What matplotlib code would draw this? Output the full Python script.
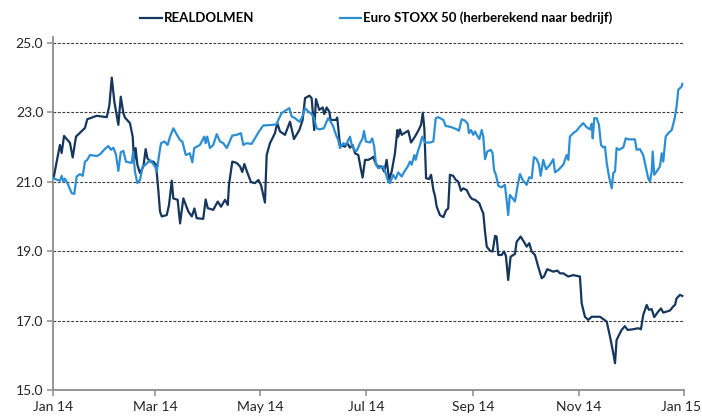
import pandas as pd
import numpy as np
import matplotlib
matplotlib.use('Agg')
import matplotlib.pyplot as plt
import matplotlib.dates as mdates
import matplotlib.transforms as mtransforms

DARK = '#16365C'
LIGHT = '#2D8ED4'
AXIS = '#8C8C8C'
TEXT = '#262626'

START = pd.Timestamp('2014-01-01')

# days since 1 Jan 2014
rd_days = [0.5, 4.0, 5.0, 6.4, 9.8, 11.4, 13.3, 16.6, 18.5, 19.8, 25.3, 31.1, 32.6, 34.0, 35.5,
           37.8, 39.2, 40.7, 41.6, 44.5, 46.1, 46.9, 47.8, 48.8, 50.3, 52.3, 53.6, 54.6, 56.1,
           58.0, 59.6, 60.9, 61.9, 62.9, 65.8, 67.1, 68.7, 69.6, 72.1, 73.5, 75.4, 78.3, 80.3,
           81.8, 83.1, 86.9, 88.3, 89.5, 92.7, 95.3, 97.2, 99.5, 101.1, 101.8, 103.7, 106.3,
           108.2, 109.5, 110.7, 112.0, 114.5, 116.8, 118.8, 120.3, 122.6, 123.6, 125.5, 128.4,
           129.7, 131.3, 134.2, 137.1, 139.4, 142.5, 144.4, 145.8, 148.3, 149.6, 151.1, 152.1,
           154.0, 156.0, 156.9, 158.3, 159.8, 160.6, 163.7, 164.4, 166.0, 168.9, 170.2, 171.8,
           173.3, 174.7, 176.6, 178.0, 179.1, 180.5, 182.4, 184.3, 185.3, 186.2, 187.8, 190.1,
           191.6, 193.0, 194.4, 195.9, 197.8, 199.2, 199.7, 200.7, 201.7, 203.2, 205.5, 207.1,
           209.4, 211.7, 212.9, 213.9, 214.8, 215.8, 217.5, 218.7, 220.0, 221.0, 221.9, 223.8,
           225.8, 227.3, 228.6, 229.6, 231.5, 232.9, 234.4, 236.0, 237.3, 239.3, 241.2, 242.5,
           244.1, 246.6, 248.0, 248.9, 249.9, 250.9, 252.8, 254.3, 255.7, 256.6, 257.6, 259.5,
           260.9, 262.0, 263.3, 264.7, 267.2, 268.2, 270.5, 272.4, 274.0, 275.5, 276.9, 278.8,
           280.7, 282.7, 284.0, 285.9, 289.4, 291.7, 293.3, 295.2, 296.7, 298.1, 300.9, 302.9,
           304.8, 305.8, 307.7, 309.6, 311.6, 316.4, 320.3, 322.2, 324.1, 325.1, 326.0, 328.9,
           330.8, 332.4, 335.6, 338.5, 340.1, 341.4, 343.4, 344.7, 346.3, 347.8, 350.1, 351.7,
           353.0, 356.9, 358.8, 359.8, 360.7, 362.7, 364.0]
rd_vals = [21.15, 22.06, 21.83, 22.32, 22.12, 21.70, 22.30, 22.46, 22.55, 22.80, 22.90, 22.86,
           23.20, 24.00, 23.30, 22.64, 23.45, 22.98, 22.85, 22.69, 22.30, 21.59, 21.97, 21.49,
           21.25, 21.44, 21.94, 21.68, 21.58, 21.58, 21.49, 20.77, 20.14, 20.00, 20.04, 20.33,
           21.03, 20.52, 20.48, 19.80, 20.52, 20.14, 20.00, 20.23, 19.95, 19.93, 20.49, 20.24,
           20.19, 20.43, 20.28, 20.48, 20.33, 20.91, 21.58, 21.54, 21.44, 21.28, 21.51, 21.32,
           20.99, 20.96, 21.05, 20.91, 20.40, 21.77, 22.11, 22.40, 22.69, 22.45, 22.35, 22.73,
           22.23, 22.49, 22.78, 23.41, 23.48, 23.41, 22.49, 23.38, 23.07, 23.14, 22.95, 23.14,
           23.02, 22.78, 22.78, 22.85, 22.06, 22.01, 22.11, 21.98, 22.06, 21.82, 21.77, 21.39,
           21.12, 21.63, 21.63, 21.68, 21.72, 21.58, 21.44, 21.44, 21.29, 21.63, 21.06, 21.29,
           21.82, 22.49, 22.30, 22.51, 22.35, 22.40, 22.47, 22.13, 22.30, 22.51, 22.64, 22.99,
           22.54, 21.10, 21.08, 21.20, 20.77, 20.58, 20.29, 20.04, 19.98, 20.17, 20.23, 21.20,
           21.17, 21.06, 21.00, 20.74, 20.81, 20.76, 20.57, 20.50, 20.48, 20.38, 20.19, 20.09,
           19.56, 19.13, 19.01, 18.99, 19.44, 19.42, 18.89, 18.89, 18.99, 18.86, 18.17, 18.84,
           18.92, 19.27, 19.42, 19.27, 19.13, 19.23, 18.99, 18.89, 18.55, 18.22, 18.27, 18.48,
           18.41, 18.44, 18.36, 18.36, 18.31, 18.27, 18.31, 18.29, 18.27, 17.50, 17.11, 17.02,
           17.11, 17.11, 16.97, 16.54, 16.06, 15.77, 16.44, 16.73, 16.84, 16.73, 16.75, 16.78,
           16.75, 17.16, 17.45, 17.31, 17.33, 17.10, 17.26, 17.35, 17.23, 17.29, 17.41, 17.45,
           17.64, 17.74, 17.71]

sx_days = [0.5, 2.1, 4.0, 5.0, 6.0, 6.9, 8.8, 10.8, 12.3, 13.7, 15.6, 17.2, 18.5, 19.8, 21.4,
           25.3, 27.2, 30.1, 32.0, 33.5, 34.9, 36.4, 37.8, 39.2, 40.7, 42.2, 45.5, 46.4, 47.4,
           48.8, 50.3, 51.9, 53.8, 56.1, 59.0, 60.0, 61.5, 62.5, 64.4, 66.3, 67.7, 69.6, 71.5,
           73.5, 74.8, 76.8, 79.2, 80.6, 81.7, 85.0, 87.5, 88.3, 89.2, 90.8, 92.7, 94.7, 96.6,
           98.5, 100.5, 102.4, 103.7, 106.3, 108.7, 110.1, 112.0, 114.9, 116.8, 119.2, 121.6,
           127.4, 129.4, 130.3, 132.3, 135.2, 136.7, 138.1, 140.0, 142.5, 143.9, 145.8, 147.7,
           149.6, 151.0, 152.5, 154.0, 156.7, 157.9, 159.2, 160.6, 162.1, 163.7, 165.0, 166.0,
           167.9, 169.5, 170.8, 171.8, 172.8, 174.1, 175.7, 177.6, 179.1, 179.9, 181.0, 183.4,
           184.7, 185.8, 186.8, 188.2, 191.0, 192.4, 193.9, 194.9, 196.8, 198.2, 199.7, 201.7,
           203.2, 205.2, 206.5, 207.5, 209.0, 209.8, 211.0, 212.3, 213.6, 215.2, 218.1, 220.0,
           221.4, 222.9, 225.8, 227.1, 230.6, 233.5, 234.8, 236.4, 238.3, 239.9, 240.6, 241.8,
           243.1, 244.1, 245.1, 246.6, 248.0, 248.9, 249.9, 251.2, 253.2, 254.3, 255.1, 256.2,
           257.6, 259.5, 261.4, 262.4, 263.3, 264.3, 265.9, 267.2, 268.6, 270.1, 271.7, 274.0,
           275.5, 276.9, 278.2, 279.8, 281.1, 282.1, 283.6, 285.2, 287.5, 289.4, 290.4, 292.3,
           295.2, 297.1, 298.1, 299.0, 300.9, 302.9, 304.4, 306.7, 308.7, 310.6, 311.6, 312.2,
           313.1, 314.5, 315.8, 317.0, 318.3, 319.3, 320.3, 321.6, 323.2, 324.1, 325.1, 326.0,
           327.4, 329.9, 331.3, 333.2, 336.6, 337.6, 339.5, 341.4, 342.8, 344.3, 345.3, 346.3,
           346.9, 347.8, 349.8, 351.1, 352.1, 353.0, 354.4, 355.9, 357.9, 359.4, 360.7, 361.7,
           363.6, 364.0]
sx_vals = [21.10, 21.06, 21.03, 21.17, 21.00, 21.09, 20.91, 20.67, 20.65, 21.15, 21.22, 21.17,
           21.58, 21.63, 21.77, 21.74, 21.79, 21.95, 22.03, 21.92, 21.98, 21.79, 21.31, 21.85,
           21.89, 21.58, 21.54, 21.87, 21.29, 20.96, 21.05, 21.44, 21.50, 21.63, 21.44, 21.29,
           21.82, 22.11, 22.16, 22.06, 22.30, 22.54, 22.37, 22.20, 22.16, 21.77, 21.82, 21.56,
           21.97, 22.06, 22.30, 22.11, 22.30, 21.97, 22.06, 22.37, 22.16, 22.11, 21.97, 22.18,
           22.33, 22.35, 22.40, 22.06, 22.11, 22.09, 22.25, 22.45, 22.62, 22.64, 22.66, 22.78,
           22.98, 23.07, 23.12, 22.88, 22.83, 22.73, 22.83, 23.12, 23.02, 22.95, 22.83, 22.54,
           22.51, 22.54, 22.69, 22.83, 22.73, 22.59, 22.35, 22.20, 21.97, 22.11, 22.06, 22.20,
           22.30, 22.06, 21.92, 21.89, 22.11, 22.25, 22.46, 22.16, 22.13, 22.25, 22.01, 21.49,
           21.39, 21.44, 21.25, 21.00, 20.96, 21.20, 21.08, 21.27, 21.15, 21.29, 21.44, 21.58,
           21.49, 21.77, 21.63, 21.87, 22.06, 22.30, 22.13, 22.13, 22.16, 22.83, 22.86, 22.78,
           22.61, 22.57, 22.51, 22.47, 22.80, 22.76, 22.67, 22.40, 22.49, 22.35, 22.45, 22.35,
           22.23, 22.49, 22.30, 21.65, 21.87, 21.92, 21.82, 21.34, 21.20, 20.88, 20.84, 20.91,
           20.48, 20.04, 20.62, 20.52, 20.43, 20.84, 21.22, 21.05, 20.91, 21.13, 21.10, 21.71,
           21.65, 21.49, 21.17, 21.63, 21.36, 21.49, 21.65, 21.27, 21.34, 21.49, 21.77, 21.63,
           22.30, 22.40, 22.47, 22.57, 22.69, 22.57, 22.51, 22.67, 22.25, 22.83, 22.83, 22.64,
           22.06, 21.99, 22.01, 21.54, 21.15, 20.81, 21.25, 21.30, 21.97, 21.92, 21.99, 22.25,
           22.22, 22.22, 21.92, 21.94, 21.77, 21.44, 21.10, 21.00, 21.29, 21.87, 21.20, 21.34,
           21.44, 21.82, 21.58, 22.30, 22.40, 22.49, 22.78, 23.16, 23.65, 23.74, 23.82]

y_ticks = [15.0, 17.0, 19.0, 21.0, 23.0, 25.0]

rd_dates = START + pd.to_timedelta(rd_days, unit='D')
sx_dates = START + pd.to_timedelta(sx_days, unit='D')

plt.rcParams['font.family'] = ['Lato', 'DejaVu Sans']

fig = plt.figure(figsize=(7.02, 4.18), dpi=100, facecolor='white')
ax = fig.add_axes([53 / 702, 1 - 390 / 418, 631 / 702, (390 - 37) / 418])

ax.plot(rd_dates, rd_vals, color=DARK, linewidth=1.6, label='REALDOLMEN', zorder=3)
ax.plot(sx_dates, sx_vals, color=LIGHT, linewidth=1.6,
        label='Euro STOXX 50 (herberekend naar bedrijf)', zorder=3)

ax.set_xlim(START, pd.Timestamp('2015-01-01'))
ax.set_ylim(15, 25.17)
ax.set_yticks(y_ticks)
ax.set_yticklabels([f'{t:.1f}' for t in y_ticks])
ax.xaxis.set_major_locator(mdates.MonthLocator(bymonth=[1, 3, 5, 7, 9, 11]))
ax.xaxis.set_major_formatter(mdates.DateFormatter('%b %y'))

for t in y_ticks[1:]:
    ax.axhline(t, color='#3A3A3A', linewidth=0.8, linestyle=(0, (2.5, 1.5)), zorder=1)

for side in ['top', 'right']:
    ax.spines[side].set_visible(False)
for side in ['left', 'bottom']:
    ax.spines[side].set_color(AXIS)
    ax.spines[side].set_linewidth(1.3)

ax.tick_params(axis='both', colors=AXIS, labelcolor=TEXT, labelsize=10,
               length=4, width=1.1, direction='out')
ax.tick_params(axis='x', pad=4)
ax.tick_params(axis='y', pad=3)

# last x label sits right at the figure edge, nudge it in a bit
fig.canvas.draw()
last = ax.get_xticklabels()[-1]
last.set_transform(last.get_transform() + mtransforms.ScaledTranslation(-3 / 100, 0, fig.dpi_scale_trans))

fig.legend(loc='center', bbox_to_anchor=(0.536, 0.957), ncol=2, frameon=False,
           handlelength=1.6, handletextpad=0.15, columnspacing=6.5,
           prop={'weight': 'bold', 'size': 9.5})

plt.savefig('out.png', dpi=100, facecolor='white')
plt.close()
